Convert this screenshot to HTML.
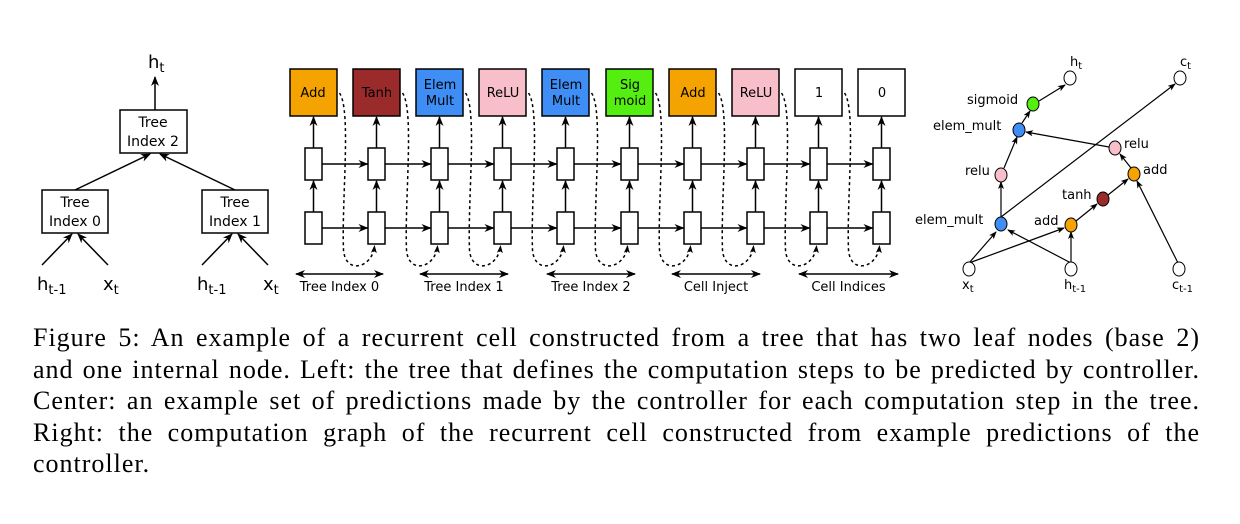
<!DOCTYPE html>
<html><head><style>
body{margin:0;background:#fff;width:1240px;height:524px;overflow:hidden;position:relative}
svg{position:absolute;left:0;top:0}
.cap{position:absolute;left:33px;top:322px;width:1167px;font-family:"Liberation Serif",serif;font-size:26px;line-height:31.5px;letter-spacing:1.0px;color:#000}
.cap div{text-align:justify;text-align-last:justify;white-space:nowrap}
.cap div.l{text-align-last:left}
</style></head><body>
<svg width="1240" height="320" font-family="DejaVu Sans, Liberation Sans, sans-serif">
<defs>
<marker id="a" markerWidth="10" markerHeight="10" refX="9" refY="5" orient="auto" markerUnits="userSpaceOnUse"><path d="M0,1 L10,5 L0,9 L3,5 Z" fill="#000"/></marker>
<marker id="b" markerWidth="10" markerHeight="10" refX="1" refY="5" orient="auto" markerUnits="userSpaceOnUse"><path d="M10,1 L0,5 L10,9 L7,5 Z" fill="#000"/></marker>
<marker id="s" markerWidth="8" markerHeight="8" refX="7" refY="4" orient="auto" markerUnits="userSpaceOnUse"><path d="M0,1 L8,4 L0,7 L2,4 Z" fill="#000"/></marker>
</defs>
<g stroke="#000" stroke-width="1.5" fill="none">
<rect x="120" y="110" width="67" height="43" fill="#fff"/>
<rect x="42" y="190" width="66" height="43" fill="#fff"/>
<rect x="202" y="190" width="66" height="43" fill="#fff"/>
<line x1="155" y1="110" x2="155" y2="77" marker-end="url(#a)"/>
<line x1="75" y1="190" x2="150" y2="154" marker-end="url(#a)"/>
<line x1="235" y1="190" x2="160" y2="154" marker-end="url(#a)"/>
<line x1="42" y1="265" x2="72" y2="234" marker-end="url(#a)"/>
<line x1="108" y1="265" x2="78" y2="234" marker-end="url(#a)"/>
<line x1="202" y1="265" x2="232" y2="234" marker-end="url(#a)"/>
<line x1="268" y1="265" x2="238" y2="234" marker-end="url(#a)"/>
</g>
<g font-size="14" text-anchor="middle">
<text x="153" y="127">Tree</text><text x="153" y="146">Index 2</text>
<text x="75" y="207">Tree</text><text x="75" y="226">Index 0</text>
<text x="235" y="207">Tree</text><text x="235" y="226">Index 1</text>
</g>
<g font-size="18">
<text x="148" y="68">h<tspan font-size="13" dy="4">t</tspan></text>
<text x="37" y="290">h<tspan font-size="13" dy="4">t-1</tspan></text>
<text x="103" y="290">x<tspan font-size="13" dy="4">t</tspan></text>
<text x="197" y="290">h<tspan font-size="13" dy="4">t-1</tspan></text>
<text x="263" y="290">x<tspan font-size="13" dy="4">t</tspan></text>
</g>
<g stroke="#000" stroke-width="1.5">
<rect x="290" y="69" width="47" height="47" fill="#f5a300"/>
<rect x="353" y="69" width="47" height="47" fill="#9b2a2a"/>
<rect x="416" y="69" width="47" height="47" fill="#3f8ef5"/>
<rect x="479" y="69" width="47" height="47" fill="#f8bfca"/>
<rect x="542" y="69" width="47" height="47" fill="#3f8ef5"/>
<rect x="606" y="69" width="47" height="47" fill="#55ee11"/>
<rect x="669" y="69" width="47" height="47" fill="#f5a300"/>
<rect x="732" y="69" width="47" height="47" fill="#f8bfca"/>
<rect x="795" y="69" width="47" height="47" fill="#fff"/>
<rect x="858" y="69" width="47" height="47" fill="#fff"/>
</g>
<g font-size="13" text-anchor="middle">
<text x="313" y="97">Add</text><text x="377" y="97">Tanh</text>
<text x="440" y="89">Elem</text><text x="440" y="105">Mult</text>
<text x="503" y="97">ReLU</text>
<text x="566" y="89">Elem</text><text x="566" y="105">Mult</text>
<text x="630" y="89">Sig</text><text x="630" y="105">moid</text>
<text x="693" y="97">Add</text><text x="756" y="97">ReLU</text>
<text x="819" y="97">1</text><text x="882" y="97">0</text>
</g>
<g stroke="#000" stroke-width="1.5" fill="none" id="cols"></g>
<script>
(function(){var ns="http://www.w3.org/2000/svg",g=document.getElementById("cols");
function el(t,a){var e=document.createElementNS(ns,t);for(var k in a)e.setAttribute(k,a[k]);g.appendChild(e);return e;}
var xs=[313.5,376.5,439.5,502.5,565.5,629.5,692.5,755.5,818.5,881.5];
for(var i=0;i<10;i++){var c=xs[i];
el("rect",{x:c-8.5,y:148,width:17,height:32,fill:"#fff"});
el("rect",{x:c-8.5,y:212,width:17,height:32,fill:"#fff"});
el("line",{x1:c,y1:148,x2:c,y2:117,"marker-end":"url(#a)"});
el("line",{x1:c,y1:212,x2:c,y2:181,"marker-end":"url(#a)"});
if(i<9){var n=xs[i+1];
el("line",{x1:c+8.5,y1:164,x2:n-9,y2:164,"marker-end":"url(#a)"});
el("line",{x1:c+8.5,y1:228,x2:n-9,y2:228,"marker-end":"url(#a)"});
var sx=c+26;
el("path",{d:"M"+sx+",93 C"+(sx+12)+",110 "+(sx+2)+",200 "+(sx+4)+",250 C"+(sx+6)+",275 "+(n-4)+",268 "+(n-2)+",246","stroke-dasharray":"3,3","marker-end":"url(#s)"});}
}
var segs=[[294,385,"Tree Index 0"],[418,510,"Tree Index 1"],[545,637,"Tree Index 2"],[670,762,"Cell Inject"],[797,900,"Cell Indices"]];
segs.forEach(function(s){el("line",{x1:s[0]+2,y1:274,x2:s[1]-2,y2:274,"marker-end":"url(#a)","marker-start":"url(#b)"});
var t=el("text",{x:(s[0]+s[1])/2,y:291,"font-size":"13","text-anchor":"middle",stroke:"none",fill:"#000"});t.textContent=s[2];});
})();
</script>
<g stroke="#000" stroke-width="1.2" fill="none">
<line x1="969" y1="263" x2="996" y2="232" marker-end="url(#s)"/>
<line x1="969" y1="263" x2="1064" y2="228" marker-end="url(#s)"/>
<line x1="1071" y1="263" x2="1008" y2="230" marker-end="url(#s)"/>
<line x1="1071" y1="263" x2="1071" y2="232" marker-end="url(#s)"/>
<line x1="1001" y1="217" x2="1001" y2="182" marker-end="url(#s)"/>
<line x1="1001" y1="217" x2="1175" y2="84" marker-end="url(#s)"/>
<line x1="1004" y1="168" x2="1017" y2="137" marker-end="url(#s)"/>
<line x1="1022" y1="123" x2="1030" y2="111" marker-end="url(#s)"/>
<line x1="1039" y1="101" x2="1065" y2="85" marker-end="url(#s)"/>
<line x1="1076" y1="221" x2="1097" y2="204" marker-end="url(#s)"/>
<line x1="1108" y1="195" x2="1128" y2="179" marker-end="url(#s)"/>
<line x1="1131" y1="168" x2="1120" y2="154" marker-end="url(#s)"/>
<line x1="1109" y1="147" x2="1026" y2="132" marker-end="url(#s)"/>
<line x1="1178" y1="263" x2="1137" y2="181" marker-end="url(#s)"/>
</g>
<g stroke="#000" stroke-width="1">
<ellipse cx="1070" cy="78" rx="6" ry="7" fill="#fff"/>
<ellipse cx="1180" cy="78" rx="6" ry="7" fill="#fff"/>
<ellipse cx="1033" cy="104" rx="6" ry="7" fill="#55ee11"/>
<ellipse cx="1019" cy="130" rx="6" ry="7" fill="#3f8ef5"/>
<ellipse cx="1001" cy="175" rx="6" ry="7" fill="#f8bfca"/>
<ellipse cx="1001" cy="224" rx="6" ry="7" fill="#3f8ef5"/>
<ellipse cx="1071" cy="225" rx="6" ry="7" fill="#f5a300"/>
<ellipse cx="1103" cy="199" rx="6" ry="7" fill="#9b2a2a"/>
<ellipse cx="1134" cy="174" rx="6" ry="7" fill="#f5a300"/>
<ellipse cx="1115" cy="148" rx="6" ry="7" fill="#f8bfca"/>
<ellipse cx="969" cy="269" rx="6" ry="7" fill="#fff"/>
<ellipse cx="1071" cy="269" rx="6" ry="7" fill="#fff"/>
<ellipse cx="1179" cy="269" rx="6" ry="7" fill="#fff"/>
</g>
<g font-size="13">
<text x="967" y="104">sigmoid</text>
<text x="933" y="130">elem_mult</text>
<text x="965" y="175">relu</text>
<text x="915" y="224">elem_mult</text>
<text x="1034" y="225">add</text>
<text x="1062" y="199">tanh</text>
<text x="1143" y="174">add</text>
<text x="1124" y="148">relu</text>
<text x="1070" y="66">h<tspan font-size="10" dy="3">t</tspan></text>
<text x="1180" y="66">c<tspan font-size="10" dy="3">t</tspan></text>
<text x="962" y="289">x<tspan font-size="10" dy="3">t</tspan></text>
<text x="1064" y="289">h<tspan font-size="10" dy="3">t-1</tspan></text>
<text x="1172" y="289">c<tspan font-size="10" dy="3">t-1</tspan></text>
</g>
</svg>
<div class="cap">
<div>Figure 5: An example of a recurrent cell constructed from a tree that has two leaf nodes (base 2)</div>
<div>and one internal node. Left: the tree that defines the computation steps to be predicted by controller.</div>
<div>Center: an example set of predictions made by the controller for each computation step in the tree.</div>
<div>Right: the computation graph of the recurrent cell constructed from example predictions of the</div>
<div class="l">controller.</div>
</div>
</body></html>
